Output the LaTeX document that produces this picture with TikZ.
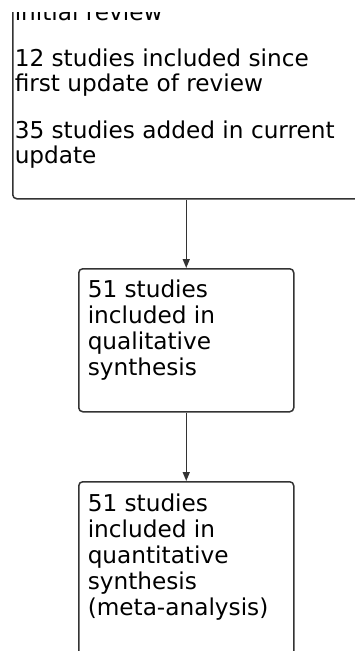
\documentclass[tikz,border=0pt]{standalone}
\usepackage{fontspec}
\setmainfont{DejaVu Sans}
\usetikzlibrary{arrows.meta}
\tikzset{
  flowbox/.style={draw=black!80, line width=1.5pt, rounded corners=4pt,
    anchor=north west, inner ysep=0pt, inner xsep=9pt,
    font=\fontsize{23.2pt}{26pt}\selectfont},
  flowarrow/.style={draw=black!80, line width=1.5pt,
    -{Triangle[width=7pt,length=9pt]}}
}
\begin{document}
\begin{tikzpicture}[x=1pt,y=-1pt]
\useasboundingbox (0,0) rectangle (355,651);
\clip (0,12) rectangle (355,651);
\node[flowbox, inner xsep=2pt, font=\fontsize{23.2pt}{25pt}\selectfont] (top) at (12,-60)
  {\parbox[t][258pt][t]{404pt}{\raggedright
   \rule{0pt}{80pt}initial review\\[21pt]
   12 studies included since\\
   first update of review\\[22pt]
   35 studies added in current\\
   update}};
\node[flowbox] (b2) at (78,268)
  {\parbox[t][143pt][t]{197pt}{\raggedright
   \rule{0pt}{29pt}51 studies\\
   included in\\
   qualitative\\
   synthesis}};
\node[flowbox] (b3) at (78,481)
  {\parbox[t][220pt][t]{197pt}{\raggedright
   \rule{0pt}{30pt}51 studies\\
   included in\\
   quantitative\\
   synthesis\\
   (meta-analysis)}};
\draw[flowarrow] (top.south -| b2.north) -- (b2.north);
\draw[flowarrow] (b2.south) -- (b3.north);
\end{tikzpicture}
\end{document}
